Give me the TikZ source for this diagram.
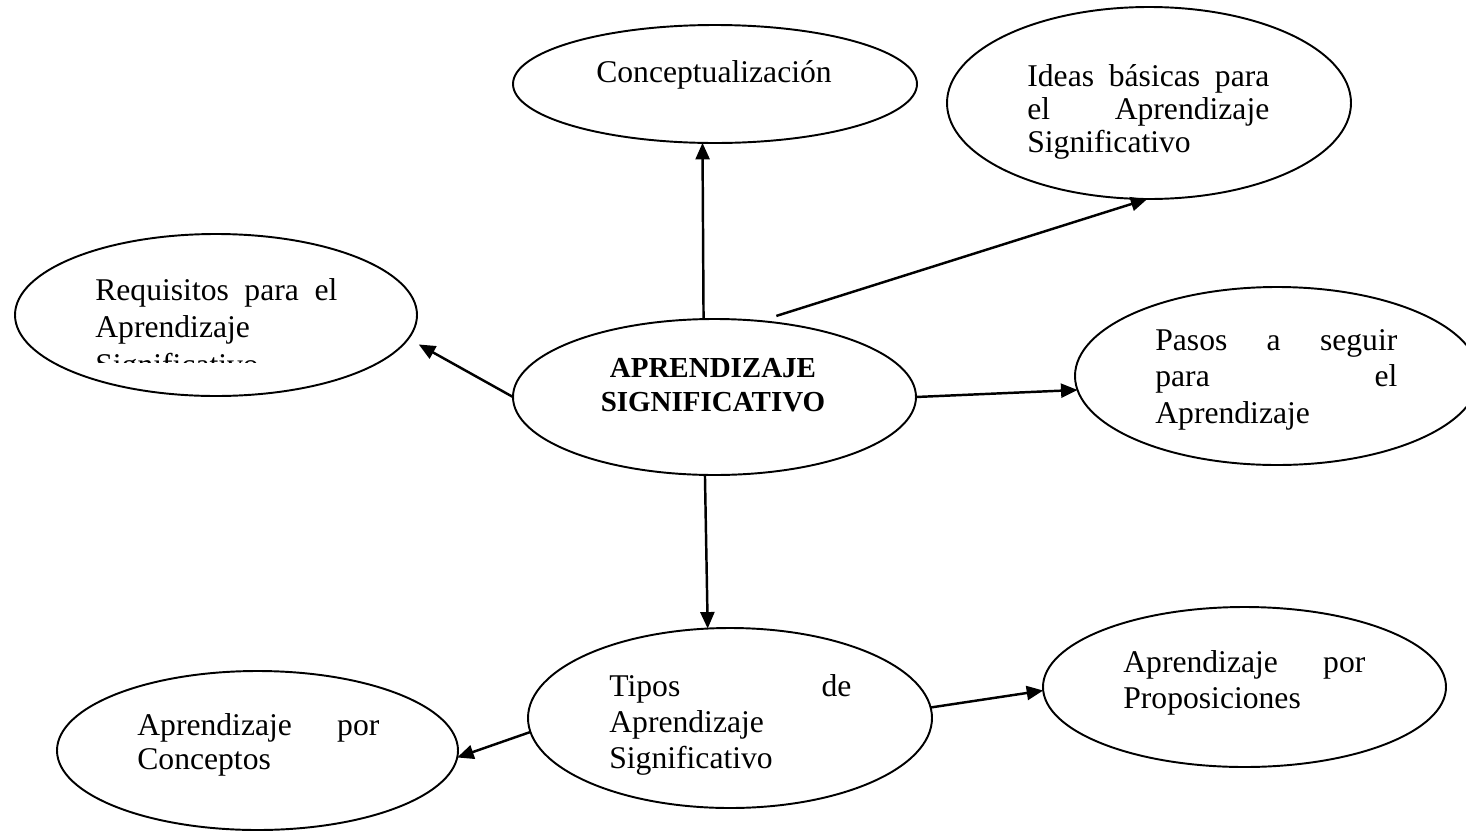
\documentclass[tikz,border=0pt]{standalone}
\usepackage{fontspec}
\setmainfont{Liberation Serif}
\usetikzlibrary{shapes.geometric, arrows.meta}
\tikzset{
  bubble/.style={ellipse, draw=black, line width=1.1pt, inner sep=0pt, outer sep=0pt},
  lbl/.style={font=\fontsize{18}{20.5}\selectfont, inner sep=0pt, anchor=base},
  hdr/.style={font=\fontsize{16.5}{19.9}\selectfont\bfseries, text width=5cm, align=center,
    inner sep=0pt, anchor=base},
  txt/.style={font=\fontsize{18}{#1}\selectfont, text width=4.84cm, align=left,
    inner sep=0pt, anchor=base west},
  txt/.default=20.5pt,
  ar/.style={-{Triangle[length=0.33cm, width=0.28cm]}, draw=black, line width=1.4pt},
}

\begin{document}
\begin{tikzpicture}
\path[use as bounding box, clip] (0,0) rectangle (29.32,-16.62);

% ellipses
\node[bubble, minimum width=8.08cm, minimum height=2.36cm] (conc)  at (14.30,-1.68) {};
\node[bubble, minimum width=8.08cm, minimum height=3.84cm] (ideas) at (22.98,-2.06) {};
\node[bubble, minimum width=8.04cm, minimum height=3.24cm] (req)   at (4.32,-6.30) {};
\node[bubble, minimum width=8.06cm, minimum height=3.12cm] (ap)    at (14.29,-7.94) {};
\node[bubble, minimum width=8.08cm, minimum height=3.56cm] (pasos) at (25.54,-7.52) {};
\node[bubble, minimum width=8.08cm, minimum height=3.60cm] (tipos) at (14.60,-14.36) {};
\node[bubble, minimum width=8.06cm, minimum height=3.20cm] (prop)  at (24.89,-13.74) {};
\node[bubble, minimum width=8.02cm, minimum height=3.18cm] (cpto)  at (5.15,-15.01) {};

% texts
\node[lbl] (conc-t) at (14.28,-1.64) {Conceptualización};
\node[txt=18.8pt] (ideas-t) at (20.54,-1.72) {Ideas\hfill básicas\hfill para\\el\hfill Aprendizaje\\Significativo};
\begin{scope}
  \clip (0,-4.5) rectangle (9,-7.24);
  \node[txt=21.6pt] (req-t) at (1.90,-6.00) {Requisitos\hfill para\hfill el\\Aprendizaje\\Significativo};
\end{scope}
\node[hdr] (ap-t) at (14.26,-7.54) {APRENDIZAJE\\SIGNIFICATIVO};
\begin{scope}
  \clip (21,-5) rectangle (29.32,-8.60);
  \node[txt=20.8pt] (pasos-t) at (23.10,-7.00) {Pasos\hfill a\hfill seguir\\para\hfill el\\Aprendizaje};
\end{scope}
\node[txt] (tipos-t) at (12.18,-13.92) {Tipos\hfill de\\Aprendizaje\\Significativo};
\node[txt] (prop-t) at (22.46,-13.44) {Aprendizaje\hfill por\\Proposiciones};
\node[txt=19.4pt] (cpto-t) at (2.74,-14.70) {Aprendizaje\hfill por\\Conceptos};

% arrows
\draw[ar] (ap.98) -- (conc.258);
\draw[ar, shorten <=0.34cm] (ap.59) -- (ideas.269);
\draw[ar, shorten >=0.24cm] (ap.180) -- (req.353);
\draw[ar] (ap.0) -- (pasos.184);
\draw[ar] (ap.263) -- (tipos.104);
\draw[ar] (tipos.184) -- (cpto.358);
\draw[ar] (tipos.3) -- (prop.181);

\end{tikzpicture}
\end{document}
